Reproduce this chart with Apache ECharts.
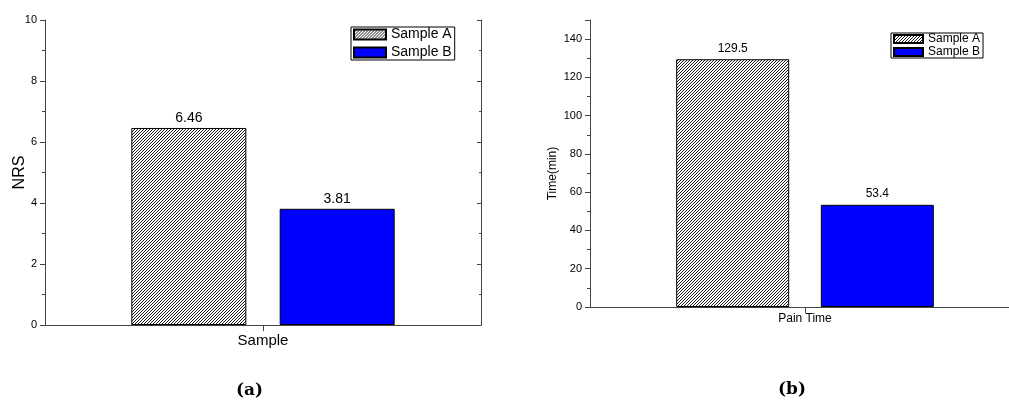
<!DOCTYPE html>
<html>
<head>
<meta charset="utf-8">
<script src="https://cdn.jsdelivr.net/npm/echarts@6/dist/echarts.min.js"></script>
<style>
html,body{margin:0;padding:0;background:#fff;}
#chart{width:1009px;height:401px;}
</style>
</head>
<body>
<div id="chart"></div>
<script>
// ---- data ----
const seriesNames = ['Sample A', 'Sample B'];
const categoriesA = ['Sample'];
const categoriesB = ['Pain Time'];
const nrsA = [6.46];
const nrsB = [3.81];
const timeA = [129.5];
const timeB = [53.4];
const captions = ['(a)', '(b)'];

function hatchPattern() {
  const p = 3;
  const c = document.createElement('canvas');
  c.width = p; c.height = p;
  const g = c.getContext('2d');
  g.fillStyle = '#ffffff';
  g.fillRect(0, 0, p, p);
  g.fillStyle = '#1a1a1a';
  for (let i = 0; i < p; i++) g.fillRect(i, p - 1 - i, 1, 1);
  return c;
}
const hatch = { image: hatchPattern(), repeat: 'repeat' };

const FONT = 'Liberation Sans';
const axisColor = '#444';

function frameAxes(gridIndex, cats, min, max, interval, labelSize, catLabelSize, catMargin, yName, yNameSize, yNameGap, yNamePad) {
  return {
    x: [
      {
        type: 'category', gridIndex, position: 'bottom', data: cats,
        axisLine: { show: true, lineStyle: { color: axisColor, width: 1 } },
        axisTick: { show: true, alignWithLabel: true, length: 6, inside: false, lineStyle: { color: axisColor } },
        axisLabel: { show: true, color: '#000', fontFamily: FONT, fontSize: catLabelSize, margin: catMargin },
        splitLine: { show: false }
      },
      {
        type: 'category', gridIndex, position: 'top', data: cats,
        axisLine: { show: true, lineStyle: { color: axisColor, width: 1 } },
        axisTick: { show: false }, axisLabel: { show: false }, splitLine: { show: false }
      }
    ],
    y: [
      {
        type: 'value', gridIndex, position: 'left', min, max, interval,
        name: yName, nameLocation: 'middle', nameGap: yNameGap, nameMoveOverlap: false,
        nameTextStyle: { color: '#000', fontFamily: FONT, fontSize: yNameSize, padding: yNamePad },
        axisLine: { show: true, lineStyle: { color: axisColor, width: 1 } },
        axisTick: { show: true, inside: false, length: 5, lineStyle: { color: axisColor } },
        minorTick: { show: true, splitNumber: 2, length: 3, lineStyle: { color: axisColor } },
        axisLabel: { color: '#000', fontFamily: FONT, fontSize: labelSize, margin: 8, showMaxLabel: max % interval === 0 },
        splitLine: { show: false }
      },
      {
        type: 'value', gridIndex, position: 'right', min, max, interval,
        axisLine: { show: true, lineStyle: { color: axisColor, width: 1 } },
        axisTick: { show: true, inside: true, length: 4, lineStyle: { color: axisColor } },
        minorTick: { show: true, splitNumber: 2, length: 2, lineStyle: { color: axisColor } },
        axisLabel: { show: false },
        splitLine: { show: false }
      }
    ]
  };
}

const f0 = frameAxes(0, categoriesA, 0, 10, 2, 11, 15, 8, 'NRS', 16, 17, 0);
const f1 = frameAxes(1, categoriesB, 0, 150, 20, 11, 12, 6, 'Time(min)', 12, 31, [0, 20, 0, 0]);

function bar(name, data, color, xi, yi, labelSize, dist, width, gap) {
  return {
    type: 'bar', name, data, xAxisIndex: xi, yAxisIndex: yi,
    barWidth: width, barGap: gap,
    itemStyle: { color, borderColor: '#000', borderWidth: 1 },
    label: { show: true, position: 'top', distance: dist, color: '#000', fontFamily: FONT, fontSize: labelSize },
    emphasis: { disabled: true },
    animation: false
  };
}

const option = {
  animation: false,
  backgroundColor: '#fff',
  grid: [
    { left: 45, top: 20, width: 436, height: 305, containLabel: false, outerBoundsMode: 'none' },
    { left: 590, top: 20, width: 430, height: 287, containLabel: false, outerBoundsMode: 'none' }
  ],
  xAxis: [f0.x[0], f0.x[1], f1.x[0], f1.x[1]],
  yAxis: [f0.y[0], f0.y[1], f1.y[0], f1.y[1]],
  legend: [
    {
      data: seriesNames, orient: 'vertical', left: 351, top: 27,
      icon: 'rect', itemWidth: 32, itemHeight: 10, itemGap: 3, itemTextGap: 4,
      padding: [0, 3, 0, 2], borderColor: '#000', borderWidth: 1,
      textStyle: { color: '#000', fontFamily: FONT, fontSize: 14, lineHeight: 15 },
      selectedMode: false
    },
    {
      data: seriesNames, orient: 'vertical', left: 891, top: 33,
      icon: 'rect', itemWidth: 29, itemHeight: 8, itemGap: 1, itemTextGap: 4,
      padding: [0, 3, 0, 2], borderColor: '#000', borderWidth: 1,
      textStyle: { color: '#000', fontFamily: FONT, fontSize: 12, lineHeight: 12 },
      selectedMode: false
    }
  ],
  series: [
    bar(seriesNames[0], nrsA, hatch, 0, 0, 14, 3, 115, '29%'),
    bar(seriesNames[1], nrsB, '#0000FF', 0, 0, 14, 3, 115, '29%'),
    bar(seriesNames[0], timeA, hatch, 2, 2, 12, 5, 113, '28%'),
    bar(seriesNames[1], timeB, '#0000FF', 2, 2, 12, 5, 113, '28%')
  ],
  graphic: [
    { type: 'text', left: 250 - 14, top: 382, style: { text: captions[0], fill: '#000', font: 'bold 17px "DejaVu Serif"' } },
    { type: 'text', left: 792 - 14, top: 381, style: { text: captions[1], fill: '#000', font: 'bold 17px "DejaVu Serif"' } }
  ]
};

const chart = echarts.init(document.getElementById('chart'), null, { renderer: 'canvas' });
chart.setOption(option);
</script>
</body>
</html>
